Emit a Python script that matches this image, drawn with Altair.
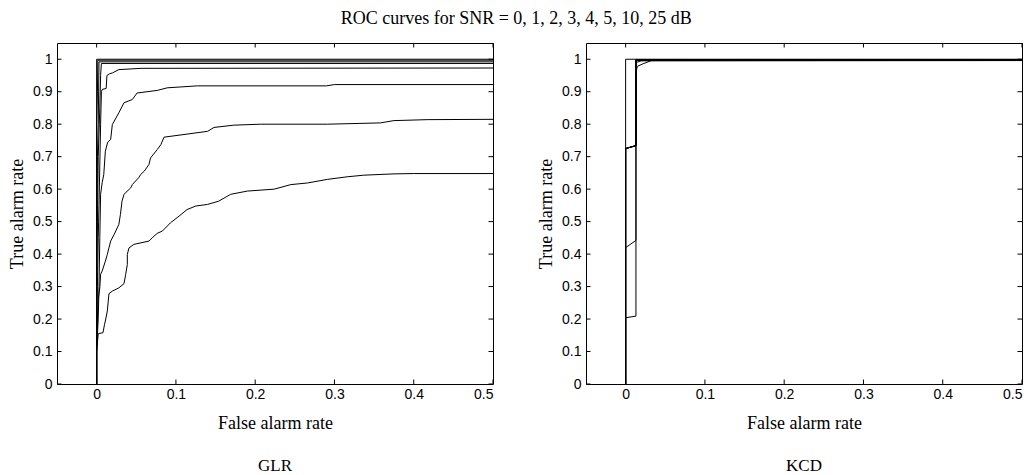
import altair as alt
import pandas as pd

# ---------------- data ----------------
snr_levels = ["0", "1", "2", "3", "4", "5", "10", "25"]

# GLR curves (false alarm rate, true alarm rate)
glr_x_0 = [0, 0, 0.002, 0.008, 0.010, 0.011, 0.0135, 0.0155, 0.0198, 0.028, 0.0345, 0.0366, 0.0387, 0.0387, 0.0408, 0.047, 0.066, 0.070, 0.0765, 0.083, 0.093, 0.104, 0.114, 0.125, 0.14, 0.154, 0.169, 0.19, 0.224, 0.245, 0.266, 0.291, 0.316, 0.337, 0.375, 0.40, 0.5]
glr_y_0 = [0, 0.1, 0.155, 0.158, 0.184, 0.194, 0.225, 0.278, 0.286, 0.296, 0.309, 0.337, 0.368, 0.399, 0.419, 0.43, 0.44, 0.45, 0.464, 0.471, 0.496, 0.517, 0.537, 0.548, 0.553, 0.563, 0.584, 0.594, 0.6, 0.614, 0.619, 0.63, 0.638, 0.643, 0.647, 0.648, 0.648]
glr_x_1 = [0, 0, 0.001, 0.002, 0.004, 0.005, 0.007, 0.011, 0.0135, 0.0155, 0.0177, 0.022, 0.028, 0.030, 0.032, 0.0345, 0.043, 0.045, 0.053, 0.0555, 0.06, 0.066, 0.068, 0.0765, 0.081, 0.085, 0.14, 0.148, 0.173, 0.207, 0.291, 0.358, 0.375, 0.417, 0.5]
glr_y_1 = [0, 0.1, 0.2, 0.26, 0.296, 0.338, 0.348, 0.378, 0.399, 0.419, 0.44, 0.46, 0.491, 0.522, 0.563, 0.584, 0.604, 0.614, 0.635, 0.645, 0.655, 0.676, 0.696, 0.722, 0.737, 0.76, 0.778, 0.79, 0.797, 0.80, 0.80, 0.804, 0.811, 0.814, 0.815]
glr_x_2 = [0, 0, 0.001, 0.002, 0.003, 0.004, 0.005, 0.007, 0.009, 0.011, 0.014, 0.0177, 0.0198, 0.028, 0.0345, 0.045, 0.051, 0.0765, 0.089, 0.127, 0.29, 0.3, 0.5]
glr_y_2 = [0, 0.1, 0.15, 0.2, 0.3, 0.45, 0.584, 0.62, 0.645, 0.717, 0.745, 0.753, 0.799, 0.835, 0.866, 0.876, 0.896, 0.904, 0.912, 0.918, 0.918, 0.922, 0.922]
glr_x_3 = [0, 0, 0.001, 0.002, 0.003, 0.005, 0.006, 0.007, 0.012, 0.013, 0.016, 0.02, 0.028, 0.056, 0.5]
glr_y_3 = [0, 0.15, 0.3, 0.45, 0.55, 0.8, 0.9, 0.907, 0.91, 0.95, 0.955, 0.958, 0.968, 0.972, 0.973]
glr_x_4 = [0, 0, 0.001, 0.002, 0.004, 0.005, 0.006, 0.5]
glr_y_4 = [0, 0.3, 0.5, 0.7, 0.85, 0.95, 0.987, 0.987]
glr_x_5 = [0, 0, 0.001, 0.002, 0.003, 0.5]
glr_y_5 = [0, 0.42, 0.7, 0.8, 0.992, 0.992]
glr_x_10 = [0, 0, 0.001, 0.0015, 0.5]
glr_y_10 = [0, 0.8, 0.9, 0.997, 0.997]
glr_x_25 = [0, 0, 0.5]
glr_y_25 = [0, 1.0, 1.0]

# KCD curves
kcd_x_0 = [0, 0, 0.013, 0.013, 0.0147, 0.022, 0.0327, 0.5]
kcd_y_0 = [0, 0.204, 0.209, 0.958, 0.978, 0.986, 0.996, 0.996]
kcd_x_1 = [0, 0, 0.013, 0.013, 0.02, 0.5]
kcd_y_1 = [0, 0.42, 0.442, 0.99, 0.995, 0.996]
kcd_x_2 = [0, 0, 0.013, 0.013, 0.5]
kcd_y_2 = [0, 0.725, 0.734, 0.997, 0.997]
kcd_x_3 = [0, 0, 0.013, 0.013, 0.5]
kcd_y_3 = [0, 0.725, 0.734, 0.997, 0.997]
kcd_x_4 = [0, 0, 0.013, 0.013, 0.5]
kcd_y_4 = [0, 0.725, 0.734, 0.998, 0.998]
kcd_x_5 = [0, 0, 0.013, 0.013, 0.5]
kcd_y_5 = [0, 0.725, 0.734, 0.998, 0.998]
kcd_x_10 = [0, 0, 0.013, 0.013, 0.5]
kcd_y_10 = [0, 0.725, 0.734, 0.999, 0.999]
kcd_x_25 = [0, 0, 0.5]
kcd_y_25 = [0, 1.0, 1.0]

x_ticks = [0, 0.1, 0.2, 0.3, 0.4, 0.5]
y_ticks = [0, 0.1, 0.2, 0.3, 0.4, 0.5, 0.6, 0.7, 0.8, 0.9, 1.0]

main_title = "ROC curves for SNR = 0, 1, 2, 3, 4, 5, 10, 25 dB"
x_title = "False alarm rate"
y_title = "True alarm rate"

# ---------------- build tables ----------------
glr_curves = {
    "0": (glr_x_0, glr_y_0), "1": (glr_x_1, glr_y_1), "2": (glr_x_2, glr_y_2),
    "3": (glr_x_3, glr_y_3), "4": (glr_x_4, glr_y_4), "5": (glr_x_5, glr_y_5),
    "10": (glr_x_10, glr_y_10), "25": (glr_x_25, glr_y_25),
}
kcd_curves = {
    "0": (kcd_x_0, kcd_y_0), "1": (kcd_x_1, kcd_y_1), "2": (kcd_x_2, kcd_y_2),
    "3": (kcd_x_3, kcd_y_3), "4": (kcd_x_4, kcd_y_4), "5": (kcd_x_5, kcd_y_5),
    "10": (kcd_x_10, kcd_y_10), "25": (kcd_x_25, kcd_y_25),
}


def to_df(curves):
    rows = []
    for s in snr_levels:
        xs_, ys_ = curves[s]
        for i, (a, b) in enumerate(zip(xs_, ys_)):
            rows.append({"snr": s, "i": i, "x": a, "y": b})
    return pd.DataFrame(rows)


xt_df = pd.DataFrame({"x": x_ticks})
yt_df = pd.DataFrame({"y": y_ticks})

W, H = 436, 341
TL = 4.5
SERIF = "Liberation Serif"
SANS = "Liberation Sans"

xs = alt.Scale(domain=[-0.05, 0.5], nice=False, zero=False)
ys = alt.Scale(domain=[0, 1.05], nice=False, zero=False)
x_axis = alt.Axis(values=x_ticks, format="~g", title=x_title)
y_axis = alt.Axis(values=y_ticks, format="~g", title=y_title)


def panel(df, caption):
    X = alt.X("x:Q", scale=xs, axis=x_axis, title=x_title)
    Y = alt.Y("y:Q", scale=ys, axis=y_axis, title=y_title)
    lines = alt.Chart(df).mark_line(color="black", strokeWidth=1).encode(
        x=X, y=Y, detail="snr:N", order="i:Q",
    )
    top = alt.Chart(xt_df).mark_rule(color="black").encode(
        x=X, y=alt.value(0), y2=alt.value(TL))
    bot = alt.Chart(xt_df).mark_rule(color="black").encode(
        x=X, y=alt.value(H - TL), y2=alt.value(H))
    lef = alt.Chart(yt_df).mark_rule(color="black").encode(
        y=Y, x=alt.value(0), x2=alt.value(TL))
    rig = alt.Chart(yt_df).mark_rule(color="black").encode(
        y=Y, x=alt.value(W - TL), x2=alt.value(W))
    return alt.layer(lines, top, bot, lef, rig).properties(
        width=W, height=H,
        title=alt.TitleParams(caption, orient="bottom", font=SERIF, fontSize=17,
                              fontWeight="normal", color="black", offset=26),
    )


chart = alt.hconcat(
    panel(to_df(glr_curves), "GLR"),
    panel(to_df(kcd_curves), "KCD"),
    spacing=41,
).properties(
    title=alt.TitleParams(main_title, font=SERIF, fontSize=18, fontWeight="normal",
                          color="black", anchor="middle", offset=14),
    padding={"left": 0, "top": 2, "right": 0, "bottom": 0},
).configure_view(
    stroke="black", strokeWidth=1
).configure_axis(
    labelFont=SANS, labelFontSize=14, labelColor="black",
    titleFont=SERIF, titleFontSize=18, titleFontWeight="normal", titleColor="black",
    ticks=False, domain=False, grid=False,
).configure_axisX(
    labelPadding=3, titlePadding=13,
).configure_axisY(
    labelPadding=5, titlePadding=6,
)

chart.save("out.html", embed_options={"renderer": "svg", "actions": False})
